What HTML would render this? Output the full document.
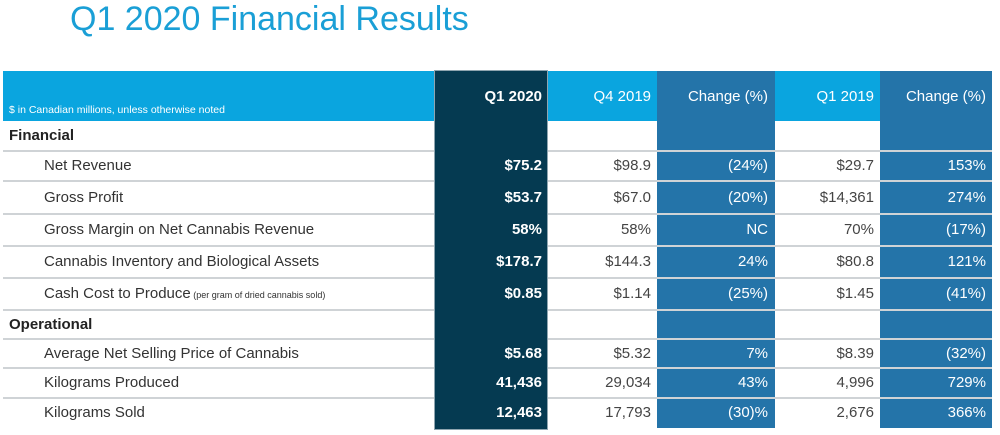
<!DOCTYPE html>
<html><head><meta charset="utf-8"><style>
body{margin:0;width:1000px;height:435px;background:#fff;position:relative;overflow:hidden;font-family:"Liberation Sans",Arial,sans-serif}
.a{position:absolute;box-sizing:border-box}
.t{position:absolute;white-space:nowrap;font-size:15px;color:#333}
</style></head><body>
<div class="a" style="left:70px;top:0px;font-size:34px;color:#1a9fd6;white-space:nowrap">Q1 2020 Financial Results</div>
<div class="a" style="left:3px;top:71px;width:989px;height:50px;background:#0aa5df"></div>
<div class="a" style="left:657px;top:71px;width:118px;height:357px;background:#2474a9"></div>
<div class="a" style="left:880px;top:71px;width:112px;height:357px;background:#2474a9"></div>
<div id="rows"></div>
<div class="a" style="left:434px;top:70px;width:114px;height:360px;background:#053a51;border:1px solid #8fa5b0"></div>
<div class="t" style="left:9px;top:104px;font-size:10.5px;color:#fff">$ in Canadian millions, unless otherwise noted</div>
<div id="cells"></div>
<script>
const headers=["Q1 2020","Q4 2019","Change (%)","Q1 2019","Change (%)"];
const colRight=[542,651,768,874,986];
const rowLabels=["Financial","Net Revenue","Gross Profit","Gross Margin on Net Cannabis Revenue","Cannabis Inventory and Biological Assets","Cash Cost to Produce","Operational","Average Net Selling Price of Cannabis","Kilograms Produced","Kilograms Sold"];
const rowTops=[121,151,181,214,246,278,310,339,368,398,428];
const q1_2020=["","$75.2","$53.7","58%","$178.7","$0.85","","$5.68","41,436","12,463"];
const q4_2019=["","$98.9","$67.0","58%","$144.3","$1.14","","$5.32","29,034","17,793"];
const chgQ=["","(24%)","(20%)","NC","24%","(25%)","","7%","43%","(30)%"];
const q1_2019=["","$29.7","$14,361","70%","$80.8","$1.45","","$8.39","4,996","2,676"];
const chgY=["","153%","274%","(17%)","121%","(41%)","","(32%)","729%","366%"];
const cols=[q1_2020,q4_2019,chgQ,q1_2019,chgY];
const R=document.getElementById('rows'),C=document.getElementById('cells');
for(let i=1;i<rowTops.length-1;i++){
 const l=document.createElement('div');l.className='a';
 
 
 l.style.cssText=`left:3px;top:${rowTops[i]-1}px;width:989px;height:2px;background:#cfd3d6`;
 R.appendChild(l);
}
headers.forEach((h,j)=>{
 const d=document.createElement('div');d.className='t';
 
 
 d.textContent=h;
 d.style.cssText=`right:${1000-colRight[j]}px;top:88px;color:#fff;${j==0?'font-weight:bold':''}`;
 C.appendChild(d);
});
rowLabels.forEach((lab,i)=>{
 const sec=(i==0||i==6);
 const mid=(rowTops[i]+rowTops[i+1])/2;
 const d=document.createElement('div');d.className='t';
 
 
 d.style.cssText=`left:${sec?9:44}px;top:${mid-9}px;${sec?'font-weight:bold;color:#222':''}`;
 d.textContent=lab;
 if(i==5){const s=document.createElement('span');s.style.fontSize='9px';s.textContent='  (per gram of dried cannabis sold)';d.appendChild(s);}
 C.appendChild(d);
 cols.forEach((arr,j)=>{
  if(!arr[i])return;
  const v=document.createElement('div');v.className='t';
  
  
  v.textContent=arr[i];
  const col=j==0?'#fff;font-weight:bold':(j==2||j==4)?'#fff':'#444';
  v.style.cssText=`right:${1000-colRight[j]}px;top:${mid-9}px;color:${col}`;
  C.appendChild(v);
 });
});
</script>
</body></html>
